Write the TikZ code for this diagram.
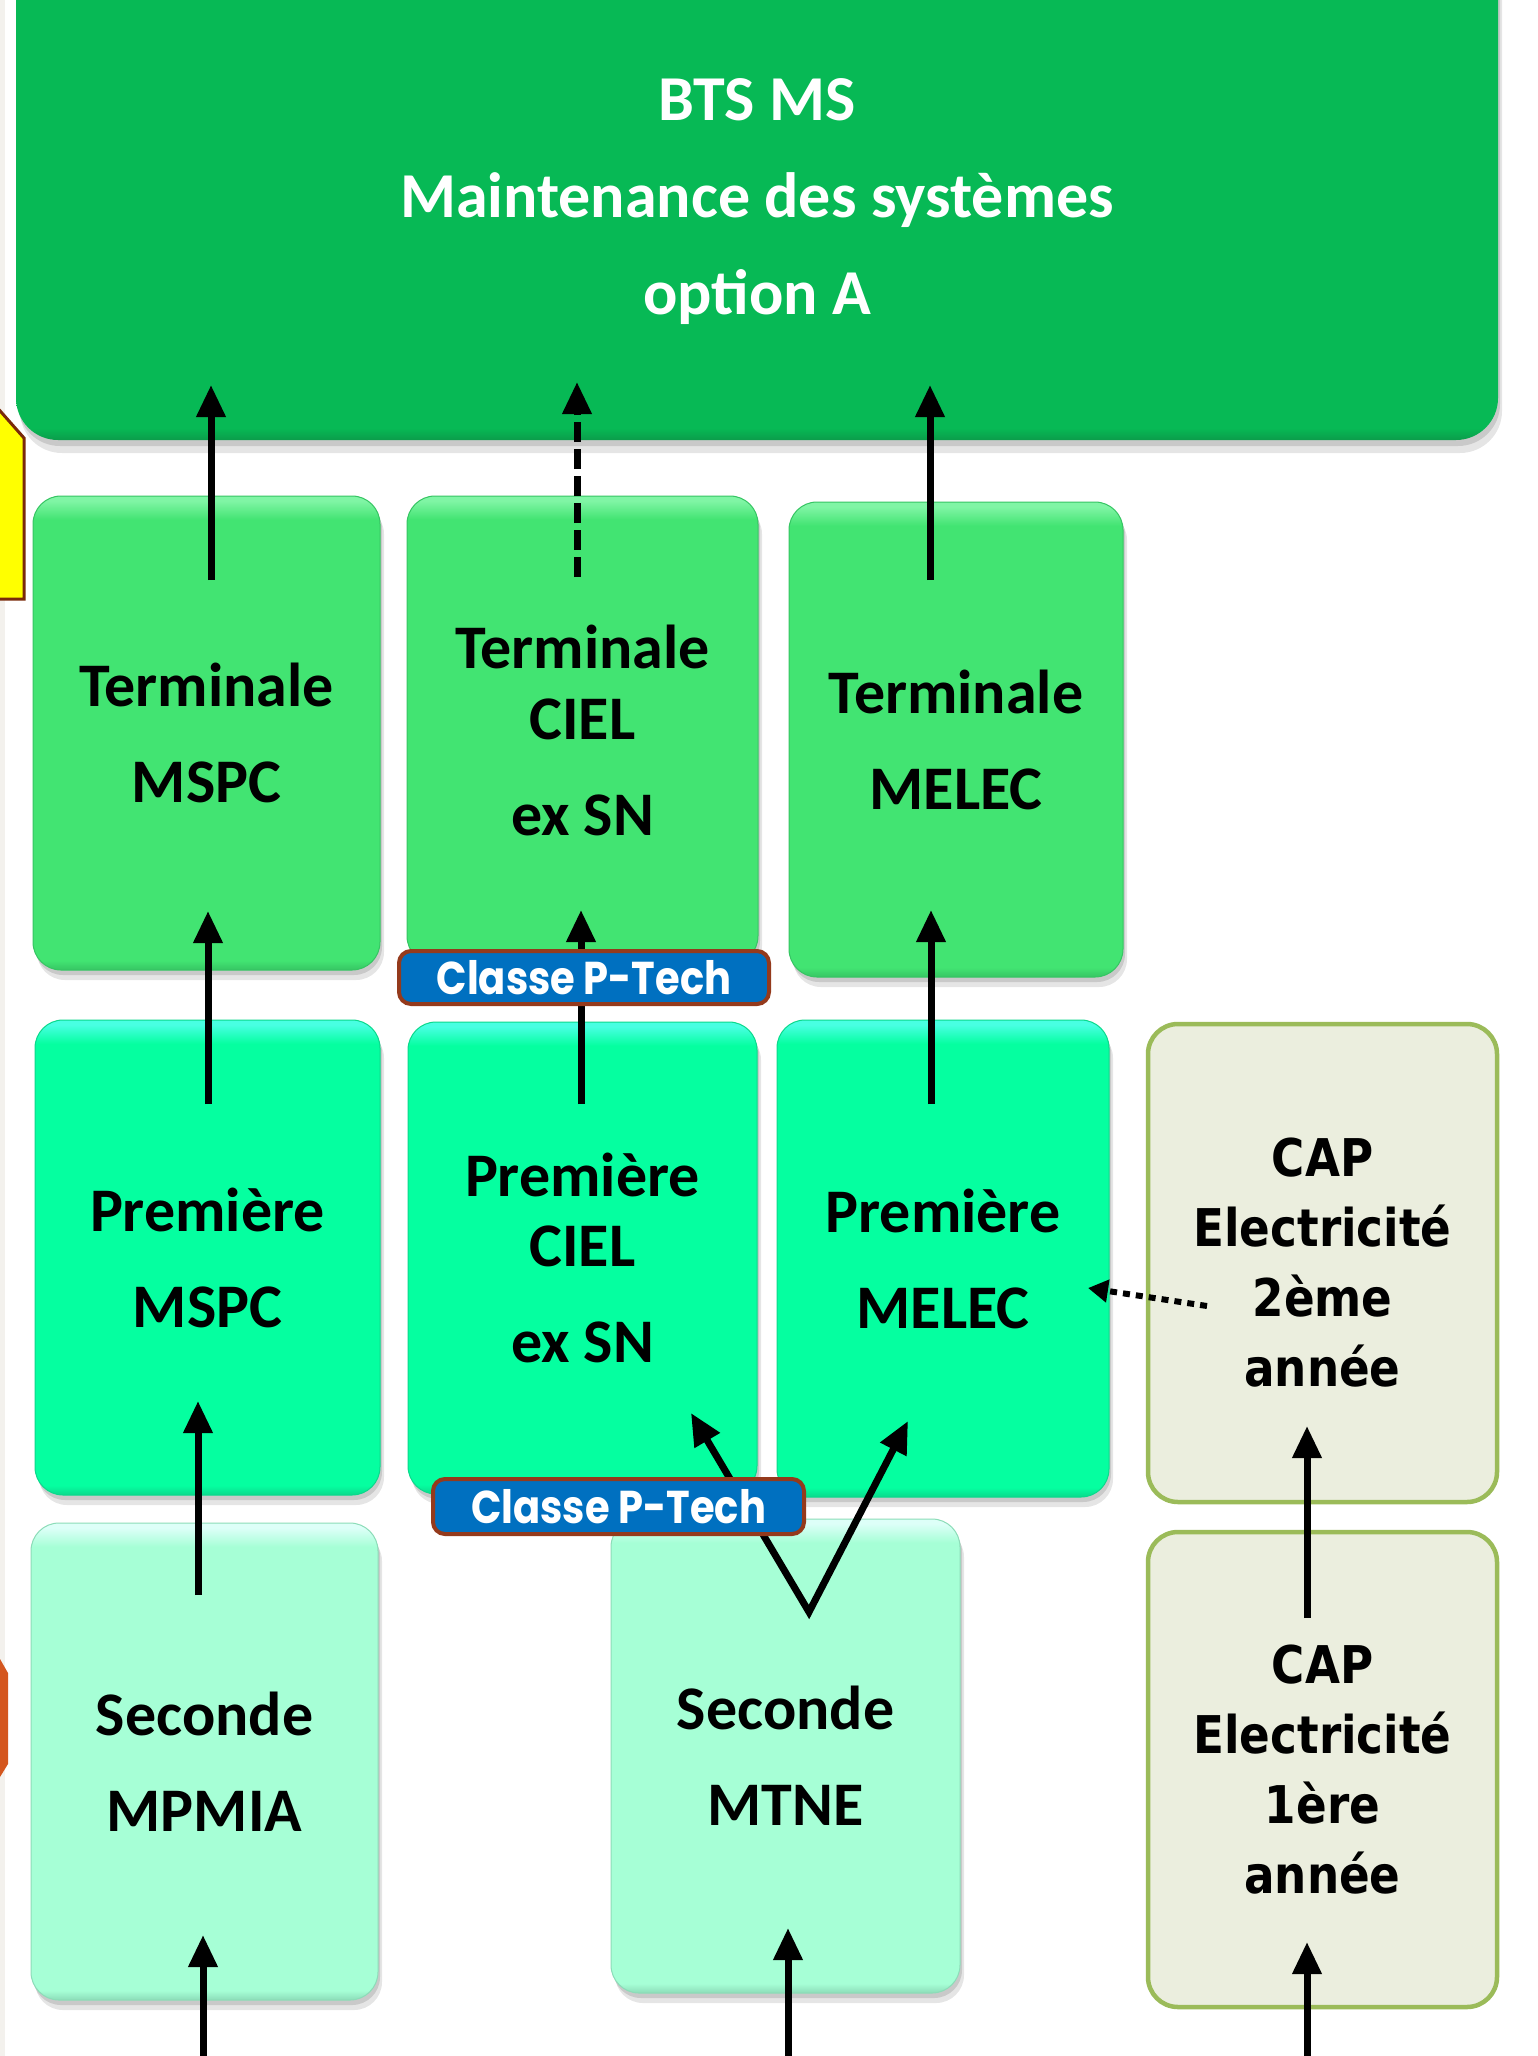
\documentclass[tikz,border=0pt]{standalone}
\usepackage{fontspec}
\setmainfont{Carlito}
\newfontfamily\capfont{DejaVu Sans}[FakeStretch=0.87]
\newfontfamily\labfont{Poppins}[FakeStretch=0.87]
\usetikzlibrary{arrows.meta,shadows}

\definecolor{btsbase}{HTML}{07B955}
\definecolor{btsdark}{HTML}{0B9C4A}
\definecolor{termbase}{HTML}{42E472}
\definecolor{termlight}{HTML}{80F5A5}
\definecolor{termdark}{HTML}{36C563}
\definecolor{prembase}{HTML}{05FFA0}
\definecolor{premlight}{HTML}{48FFE2}
\definecolor{premdark}{HTML}{0BD98C}
\definecolor{secbase}{HTML}{A6FFD6}
\definecolor{seclight}{HTML}{DDFFF8}
\definecolor{secdark}{HTML}{8CDCB8}
\definecolor{capfill}{HTML}{EBEEDE}
\definecolor{capline}{HTML}{9BBB59}
\definecolor{labblue}{HTML}{0070C0}
\definecolor{labline}{HTML}{943A1C}
\definecolor{yel}{HTML}{FFFF00}
\definecolor{yelline}{HTML}{7A2A0A}
\definecolor{orng}{HTML}{D4561E}
\definecolor{edgegray}{HTML}{F3F1ED}

\pgfdeclareverticalshading{btssh}{100bp}{color(0bp)=(btsdark); color(25bp)=(btsdark); color(26.2bp)=(btsbase); color(100bp)=(btsbase)}
\pgfdeclareverticalshading{termsh}{100bp}{color(0bp)=(termdark); color(25bp)=(termdark); color(26bp)=(termbase); color(72.5bp)=(termbase); color(74.5bp)=(termlight); color(100bp)=(termlight)}
\pgfdeclareverticalshading{premsh}{100bp}{color(0bp)=(premdark); color(25bp)=(premdark); color(26bp)=(prembase); color(72.5bp)=(prembase); color(74.5bp)=(premlight); color(100bp)=(premlight)}
\pgfdeclareverticalshading{secsh}{100bp}{color(0bp)=(secdark); color(25bp)=(secdark); color(26bp)=(secbase); color(72.5bp)=(secbase); color(74.5bp)=(seclight); color(100bp)=(seclight)}

\tikzset{
  softshadow/.style={
    drop shadow={shadow xshift=2pt,shadow yshift=-5pt,fill=black,opacity=0.12},
    drop shadow={shadow xshift=4pt,shadow yshift=-10pt,fill=black,opacity=0.10}},
  bx/.style={rounded corners=28pt, inner sep=0pt, align=center, text=black,
    font=\fontsize{62}{96}\selectfont\bfseries, softshadow},
  termbox/.style={bx, shade, shading=termsh, draw=termdark, line width=1pt},
  prembox/.style={bx, shade, shading=premsh, draw=premdark, line width=1pt},
  secbox/.style={bx, shade, shading=secsh, draw=secdark, line width=1pt},
  capbox/.style={rounded corners=30pt, inner sep=0pt, align=center, fill=capfill,
    draw=capline, line width=4.5pt, font=\capfont\fontsize{52}{70}\selectfont\bfseries},
  labbox/.style={rounded corners=12pt, inner sep=0pt, fill=labblue, draw=labline,
    line width=4pt, text=white, font=\labfont\fontsize{46}{50}\selectfont\bfseries},
  arr/.style={line width=7pt, -{Triangle[width=28pt,length=32pt]}},
  dasharr/.style={arr, dash pattern=on 20pt off 7pt},
  dotarr/.style={line width=6pt, dash pattern=on 7pt off 6pt, -{Triangle[width=22pt,length=20pt]}}
}

\begin{document}
\begin{tikzpicture}[x=1pt,y=-1pt]
\useasboundingbox (0,0) rectangle (1537,2056);
\clip (0,0) rectangle (1537,2056);
\fill[white] (0,0) rectangle (1537,2056);
\fill[edgegray] (0,0) rectangle (5,2056);

% side fragments
\draw[fill=yel, draw=yelline, line width=3pt] (-6,404) -- (24,438) -- (24,599) -- (-6,599) -- cycle;
\fill[orng] (-6,1659) -- (0,1659) -- (8,1673) -- (8,1764) -- (0,1777) -- (-6,1777) -- cycle;

% top box
\node[rounded corners=42pt, inner sep=0pt, shade, shading=btssh,
      drop shadow={shadow xshift=2pt,shadow yshift=-6pt,fill=black,opacity=0.12},
      drop shadow={shadow xshift=4pt,shadow yshift=-13pt,fill=black,opacity=0.10},
      minimum width=1482pt, minimum height=500pt] (bts) at (757,190) {};
\node[align=center, text=white, font=\fontsize{64}{97}\selectfont\bfseries] (btstext) at (757,202)
  {BTS MS\\Maintenance des systèmes\\option A};

% Terminale
\node[termbox, minimum width=347pt, minimum height=474pt] (tmspc) at (206.5,733) {Terminale\\MSPC};
\node[termbox, minimum width=351pt, minimum height=468pt] (tciel) at (582.5,730) {Terminale\\[-25pt]CIEL\\ex SN};
\node[termbox, minimum width=334pt, minimum height=475pt] (tmelec) at (956,739.5) {Terminale\\MELEC};

% Premiere
\node[prembox, minimum width=345pt, minimum height=475pt] (pmspc) at (207.5,1257.5) {Première\\MSPC};
\node[prembox, minimum width=349pt, minimum height=472pt] (pciel) at (582.5,1258) {Première\\[-26pt]CIEL\\ex SN};
\node[prembox, minimum width=332pt, minimum height=477pt] (pmelec) at (943,1258.5) {Première\\MELEC};

% Seconde
\node[secbox, minimum width=347pt, minimum height=477pt] (smpmia) at (204.5,1761.5) {Seconde\\MPMIA};
\node[secbox, minimum width=349pt, minimum height=474pt] (smtne) at (785.5,1756) {Seconde\\MTNE};

% CAP
\node[capbox, minimum width=349pt, minimum height=478pt] (cap2) at (1322.5,1263) {CAP\\Electricité\\2ème\\année};
\node[capbox, minimum width=349pt, minimum height=475pt] (cap1) at (1322.5,1769.5) {CAP\\Electricité\\1ère\\année};

% arrow end points
\coordinate (a1s) at (211,580);  \coordinate (a1e) at (211,385);
\coordinate (a2s) at (577,577);  \coordinate (a2e) at (577,382);
\coordinate (a3s) at (930,580);  \coordinate (a3e) at (930,385);
\coordinate (a4s) at (208,1104); \coordinate (a4e) at (208,911);
\coordinate (a5s) at (581,1104); \coordinate (a5e) at (581,910);
\coordinate (a6s) at (931,1104); \coordinate (a6e) at (931,910);
\coordinate (a7s) at (198,1595); \coordinate (a7e) at (198,1401);
\coordinate (vtx) at (809,1612); \coordinate (a8e) at (691,1413); \coordinate (a9e) at (908,1421);
\coordinate (a10s) at (1207,1306); \coordinate (a10e) at (1088,1288);
\coordinate (a11s) at (1307,1618); \coordinate (a11e) at (1307,1426);
\coordinate (b1s) at (203,2062);  \coordinate (b1e) at (203,1935);
\coordinate (b2s) at (788,2062);  \coordinate (b2e) at (788,1928);
\coordinate (b3s) at (1307,2062); \coordinate (b3e) at (1307,1942);

\draw[arr] (a1s) -- (a1e);
\draw[dasharr] (a2s) -- (a2e);
\draw[arr] (a3s) -- (a3e);
\draw[arr] (a4s) -- (a4e);
\draw[arr] (a5s) -- (a5e);
\draw[arr] (a6s) -- (a6e);
\draw[arr] (a7s) -- (a7e);
\draw[line width=7pt, {Triangle[width=28pt,length=32pt]}-{Triangle[width=28pt,length=32pt]}] (a8e) -- (vtx) -- (a9e);
\draw[dotarr] (a10s) -- (a10e);
\draw[arr] (a11s) -- (a11e);
\draw[arr] (b1s) -- (b1e);
\draw[arr] (b2s) -- (b2e);
\draw[arr] (b3s) -- (b3e);

% labels
\node[labbox, minimum width=370pt, minimum height=53pt] (lab1) at (584,977.5) {Classe P-Tech};
\node[labbox, minimum width=371pt, minimum height=55pt] (lab2) at (618.5,1506.5) {Classe P-Tech};
\end{tikzpicture}
\end{document}
